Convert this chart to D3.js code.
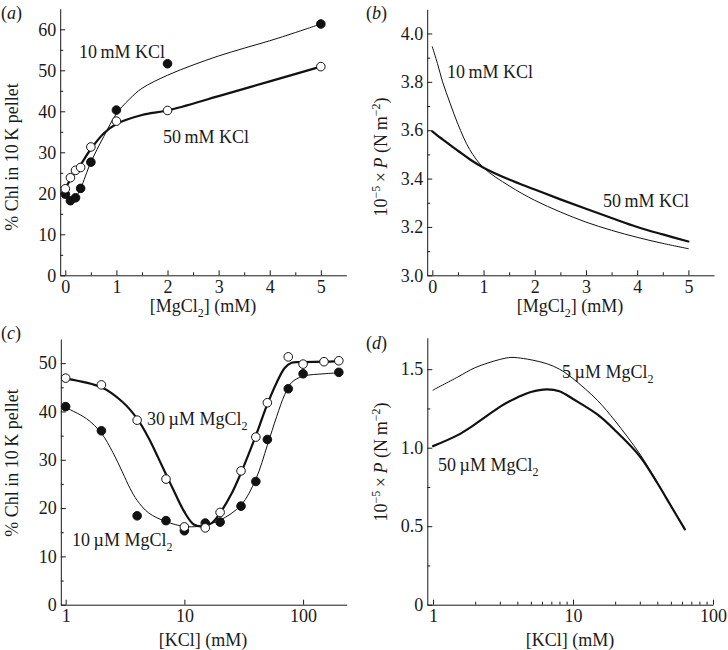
<!DOCTYPE html>
<html><head><meta charset="utf-8">
<script src="https://cdn.jsdelivr.net/npm/d3@7"></script>
<style>
html,body{margin:0;padding:0;background:#fff;}
svg text{font-family:"Liberation Serif","DejaVu Serif",serif;fill:#1a1a1a;}
</style></head>
<body>
<svg id="c" width="728" height="650"></svg>
<script>
// ---------- Panel (a): % Chl in 10K pellet vs [MgCl2] ----------
const aMg = [0, 0.1, 0.2, 0.3, 0.5, 1, 2, 5];
const aKCl10 = [19.8, 18.2, 18.9, 21.2, 27.6, 40.3, 51.6, 61.3];
const aKCl50 = [21.1, 23.8, 25.6, 26.3, 31.3, 37.6, 40.2, 50.9];
const aFitX = [0, 0.1, 0.2, 0.3, 0.5, 0.75, 1, 1.25, 1.5, 2, 2.5, 3, 3.5, 4, 4.5, 5];
const aFit10 = [19.8, 18.4, 19.0, 21.2, 27.6, 33.8, 39.4, 42.9, 45.6, 48.8, 51.3, 53.5, 55.4, 57.2, 59.2, 61.3];
const aFit50X = [0, 0.1, 0.2, 0.3, 0.5, 0.75, 1, 1.5, 2, 3, 4, 5];
const aFit50 = [21.1, 23.4, 25.3, 27.0, 30.8, 34.6, 36.9, 39.1, 40.2, 43.7, 47.3, 50.9];

// ---------- Panel (b): 10^-5 x P vs [MgCl2] ----------
const bX = [0, 0.1, 0.2, 0.35, 0.5, 0.73, 1, 1.5, 2, 2.5, 3, 3.5, 4, 4.5, 5];
const bKCl10 = [3.945, 3.876, 3.80, 3.71, 3.625, 3.52, 3.445, 3.37, 3.31, 3.262, 3.22, 3.186, 3.157, 3.132, 3.11];
const bKCl50 = [3.595, 3.578, 3.562, 3.538, 3.515, 3.48, 3.445, 3.396, 3.355, 3.314, 3.275, 3.237, 3.20, 3.169, 3.14];

// ---------- Panel (c): % Chl in 10K pellet vs [KCl] ----------
const cKCl30 = [1, 2, 4, 7, 10, 15, 20, 30, 40, 50, 75, 100, 150, 200];
const cMg30 = [46.9, 45.5, 38.2, 26.0, 16.1, 15.9, 19.1, 27.7, 34.7, 41.8, 51.3, 49.8, 50.3, 50.5];
const cKCl10 = [1, 2, 4, 7, 10, 15, 20, 30, 40, 50, 75, 100, 200];
const cMg10 = [41.0, 36.0, 18.4, 17.4, 15.3, 16.9, 17.1, 20.4, 25.5, 34.2, 44.7, 47.8, 48.1];
const cFit30X = [1, 2, 3, 4, 5, 6, 7, 8, 10, 12, 14, 17, 20, 25, 30, 40, 50, 60, 70, 80, 100, 150, 200];
const cFit30 = [46.8, 45.0, 42.0, 38.5, 34.5, 30.5, 27.0, 24.0, 19.2, 16.6, 16.2, 16.9, 19.0, 23.0, 27.3, 35.0, 41.5, 46.0, 49.0, 50.1, 50.2, 50.3, 50.4];
const cFit10X = [1, 1.5, 2, 2.5, 3, 3.5, 4, 5, 7, 10, 13, 15, 20, 30, 40, 50, 60, 70, 80, 100, 150, 200];
const cFit10 = [40.8, 38.5, 35.5, 31.5, 27.5, 24.0, 21.6, 19.0, 17.2, 16.2, 16.2, 16.5, 17.5, 20.6, 26.0, 33.0, 39.0, 43.5, 46.0, 47.3, 47.8, 48.0];

// ---------- Panel (d): 10^-5 x P vs [KCl] ----------
const dX = [1, 1.5, 2, 3, 3.6, 4, 5, 6.5, 8, 10, 15, 20, 30, 40, 50, 63];
const dMg5 = [1.367, 1.45, 1.51, 1.562, 1.575, 1.573, 1.56, 1.535, 1.50, 1.44, 1.30, 1.17, 0.96, 0.78, 0.63, 0.48];
const dMg50 = [1.01, 1.08, 1.15, 1.26, 1.30, 1.32, 1.355, 1.372, 1.36, 1.31, 1.21, 1.11, 0.945, 0.775, 0.63, 0.48];

const svg = d3.select("#c");
const FS = 18;

function drawAxes(g, x, y, o) {
  const xa = g.append("g").attr("transform", `translate(0,${y.range()[0]})`);
  xa.call(d3.axisBottom(x).tickValues(o.xMajor).tickFormat(o.xFmt).tickSize(-5).tickSizeOuter(0).tickPadding(5));
  if (o.xMinor) {
    g.append("g").attr("transform", `translate(0,${y.range()[0]})`)
      .call(d3.axisBottom(x).tickValues(o.xMinor).tickFormat("").tickSize(-3).tickSizeOuter(0))
      .select(".domain").remove();
  }
  const ya = g.append("g").attr("transform", `translate(${x.range()[0]},0)`);
  ya.call(d3.axisLeft(y).tickValues(o.yMajor).tickFormat(o.yFmt).tickSize(-5).tickSizeOuter(0).tickPadding(4));
  if (o.yMinor) {
    g.append("g").attr("transform", `translate(${x.range()[0]},0)`)
      .call(d3.axisLeft(y).tickValues(o.yMinor).tickFormat("").tickSize(-3).tickSizeOuter(0))
      .select(".domain").remove();
  }
  g.selectAll(".domain, .tick line").attr("stroke", "#1a1a1a").attr("stroke-width", 1);
  g.selectAll(".tick text").attr("font-size", FS).attr("font-family", "Liberation Serif").attr("fill", "#1a1a1a");
}

function curve(g, x, y, xs, ys, w) {
  const line = d3.line().x(d => x(d[0])).y(d => y(d[1])).curve(d3.curveCatmullRom.alpha(0.5));
  g.append("path").datum(xs.map((v, i) => [v, ys[i]]))
    .attr("d", line).attr("fill", "none").attr("stroke", "#111").attr("stroke-width", w)
    .attr("stroke-linejoin", "round").attr("stroke-linecap", "round");
}
function dots(g, x, y, xs, ys, filled) {
  g.selectAll(null).data(xs.map((v, i) => [v, ys[i]])).enter().append("circle")
    .attr("cx", d => x(d[0])).attr("cy", d => y(d[1])).attr("r", 4.3)
    .attr("fill", filled ? "#111" : "#fff").attr("stroke", "#111").attr("stroke-width", 1);
}
function mgText(g, tx, ty, num, unit) {
  const t = g.append("text").attr("x", tx).attr("y", ty).attr("font-size", 18);
  t.append("tspan").text(num + "\u2009" + unit + " MgCl");
  t.append("tspan").attr("font-size", 12).attr("dy", 5).text("2");
  return t;
}
function panelLabel(tx, ty, letter) {
  const t = svg.append("text").attr("x", tx).attr("y", ty).attr("font-size", 18);
  t.append("tspan").text("(");
  t.append("tspan").attr("font-style", "italic").text(letter);
  t.append("tspan").text(")");
}
function xTitleMg(cx, cy) {
  const t = svg.append("text").attr("x", cx).attr("y", cy).attr("font-size", 18).attr("text-anchor", "middle");
  t.append("tspan").text("[MgCl");
  t.append("tspan").attr("font-size", 12).attr("dy", 5).text("2");
  t.append("tspan").attr("dy", -5).text("] (mM)");
}
function yTitleChl(cx, cy) {
  svg.append("text").attr("transform", `translate(${cx},${cy}) rotate(-90)`).attr("font-size", 18)
    .attr("text-anchor", "middle").text("% Chl in 10\u2009K pellet");
}
function yTitleP(cx, cy) {
  const t = svg.append("text").attr("transform", `translate(${cx},${cy}) rotate(-90)`).attr("font-size", 18)
    .attr("text-anchor", "middle");
  t.append("tspan").text("10");
  t.append("tspan").attr("font-size", 12).attr("dy", -7).text("\u22125");
  t.append("tspan").attr("dy", 7).text("\u2009\u00d7\u2009");
  t.append("tspan").attr("font-style", "italic").text("P");
  t.append("tspan").text(" (N\u2009m");
  t.append("tspan").attr("font-size", 12).attr("dy", -7).text("\u22122");
  t.append("tspan").attr("dy", 7).text(")");
}

// ===== Panel a =====
{
  const x = d3.scaleLinear().domain([-0.1, 5.5]).range([60.2, 346.4]);
  const y = d3.scaleLinear().domain([0, 65]).range([275.3, 8.8]);
  const g = svg.append("g");
  drawAxes(g, x, y, {
    xMajor: [0, 1, 2, 3, 4, 5], xFmt: d3.format("d"), xMinor: [0.5, 1.5, 2.5, 3.5, 4.5],
    yMajor: [0, 10, 20, 30, 40, 50, 60], yFmt: d3.format("d"), yMinor: [5, 15, 25, 35, 45, 55]
  });
  curve(g, x, y, aFitX, aFit10, 1);
  curve(g, x, y, aFit50X, aFit50, 2.2);
  dots(g, x, y, aMg, aKCl10, true);
  dots(g, x, y, aMg, aKCl50, false);
  g.append("text").attr("x", 79).attr("y", 58).attr("font-size", 18).text("10\u2009mM KCl");
  g.append("text").attr("x", 163).attr("y", 143).attr("font-size", 18).text("50\u2009mM KCl");
  panelLabel(1, 19, "a");
  xTitleMg(203, 312);
  yTitleChl(18, 157);
}
// ===== Panel b =====
{
  const x = d3.scaleLinear().domain([-0.1, 5.5]).range([427.2, 714]);
  const y = d3.scaleLinear().domain([3.0, 4.1]).range([275.3, 9.3]);
  const g = svg.append("g");
  drawAxes(g, x, y, {
    xMajor: [0, 1, 2, 3, 4, 5], xFmt: d3.format("d"), xMinor: [0.5, 1.5, 2.5, 3.5, 4.5],
    yMajor: [3.0, 3.2, 3.4, 3.6, 3.8, 4.0], yFmt: d3.format(".1f"), yMinor: [3.1, 3.3, 3.5, 3.7, 3.9]
  });
  curve(g, x, y, bX, bKCl10, 1);
  curve(g, x, y, bX, bKCl50, 2.2);
  g.append("text").attr("x", 447).attr("y", 78).attr("font-size", 18).text("10\u2009mM KCl");
  g.append("text").attr("x", 603).attr("y", 207).attr("font-size", 18).text("50\u2009mM KCl");
  panelLabel(366, 19, "b");
  xTitleMg(570, 312);
  yTitleP(387, 157);
}
// ===== Panel c =====
{
  const x = d3.scaleLog().domain([0.91, 233]).range([60.8, 346.7]);
  const y = d3.scaleLinear().domain([0, 55]).range([604.7, 339]);
  const g = svg.append("g");
  drawAxes(g, x, y, {
    xMajor: [1, 10, 100], xFmt: d3.format("d"), xMinor: null,
    yMajor: [0, 10, 20, 30, 40, 50], yFmt: d3.format("d"), yMinor: [5, 15, 25, 35, 45]
  });
  curve(g, x, y, cFit10X, cFit10, 1);
  curve(g, x, y, cFit30X, cFit30, 2.2);
  dots(g, x, y, cKCl10, cMg10, true);
  dots(g, x, y, cKCl30, cMg30, false);
  mgText(g, 147, 425, "30", "\u00b5M");
  mgText(g, 72, 546, "10", "\u00b5M");
  panelLabel(1, 339, "c");
  svg.append("text").attr("x", 203).attr("y", 646).attr("font-size", 18).attr("text-anchor", "middle").text("[KCl] (mM)");
  yTitleChl(18, 463);
}
// ===== Panel d =====
{
  const x = d3.scaleLog().domain([0.91, 100]).range([427.3, 713]);
  const y = d3.scaleLinear().domain([0, 1.7]).range([604.7, 337.8]);
  const g = svg.append("g");
  const minor = [2,3,4,5,6,7,8,9,20,30,40,50,60,70,80,90];
  drawAxes(g, x, y, {
    xMajor: [1, 10, 100], xFmt: d3.format("d"), xMinor: minor,
    yMajor: [0, 0.5, 1.0, 1.5], yFmt: d => d === 0 ? "0" : d3.format(".1f")(d), yMinor: [0.25, 0.75, 1.25]
  });
  curve(g, x, y, dX, dMg5, 1);
  curve(g, x, y, dX, dMg50, 2.2);
  mgText(g, 562, 378, "5", "\u00b5M");
  mgText(g, 438, 471, "50", "\u00b5M");
  panelLabel(366, 349, "d");
  svg.append("text").attr("x", 570).attr("y", 646).attr("font-size", 18).attr("text-anchor", "middle").text("[KCl] (mM)");
  yTitleP(387, 462);
}
</script>
</body></html>
